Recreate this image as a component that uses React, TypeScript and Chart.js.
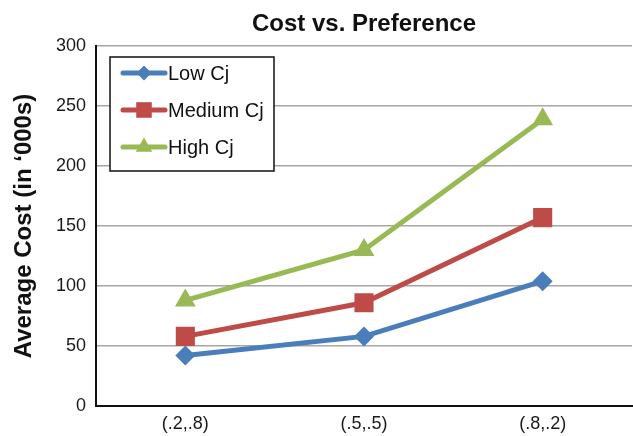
import React, { useEffect, useRef } from "react";
import { Chart, registerables } from "chart.js";
import { drawPoint } from "chart.js/helpers";

Chart.register(...registerables);

// Preference pairs on the x axis
const categories = ["(.2,.8)", "(.5,.5)", "(.8,.2)"];

// Average cost (in thousands) per Cj level
const lowCj = [42, 58, 104];
const mediumCj = [58, 86, 157];
const highCj = [88, 130, 239];

const seriesNames = ["Low Cj", "Medium Cj", "High Cj"];
const seriesColors = ["#4A7EBB", "#BE4B48", "#98B954"];
const seriesMarkers = ["rectRot", "rect", "triangle"];
const markerRadii = [10, 13.5, 12];
const legendRadii = [7.5, 11, 9.5];

const yTicks = [0, 50, 100, 150, 200, 250, 300];

const chartTitle = "Cost vs. Preference";
const yTitle = "Average Cost (in \u2018000s)";

const FONT = "'Liberation Sans', Arial, Helvetica, sans-serif";

const titlePlugin = {
  id: "centeredTitle",
  afterDraw(chart: any) {
    const { ctx, chartArea } = chart;
    ctx.save();
    ctx.font = `bold 24px ${FONT}`;
    ctx.fillStyle = "#111";
    ctx.textAlign = "center";
    ctx.textBaseline = "middle";
    ctx.fillText(chartTitle, (chartArea.left + chartArea.right) / 2, 24);
    ctx.restore();
  },
};

const boxedLegend = {
  id: "boxedLegend",
  afterDraw(chart: any) {
    const { ctx } = chart;
    const x0 = 110;
    const y0 = 57;
    const w = 164;
    const h = 114;
    ctx.save();
    ctx.fillStyle = "#fff";
    ctx.fillRect(x0, y0, w, h);
    ctx.lineWidth = 1.5;
    ctx.strokeStyle = "#111";
    ctx.strokeRect(x0, y0, w, h);
    chart.data.datasets.forEach((ds: any, i: number) => {
      const y = y0 + 16 + i * 37;
      ctx.strokeStyle = ds.borderColor;
      ctx.lineWidth = 5;
      ctx.lineCap = "round";
      ctx.beginPath();
      ctx.moveTo(x0 + 13, y);
      ctx.lineTo(x0 + 55, y);
      ctx.stroke();
      ctx.fillStyle = ds.backgroundColor;
      ctx.strokeStyle = ds.borderColor;
      drawPoint(ctx, { pointStyle: ds.pointStyle, radius: legendRadii[i], rotation: 0, borderWidth: 0 }, x0 + 34, y);
      ctx.fillStyle = "#111";
      ctx.font = `20px ${FONT}`;
      ctx.textAlign = "left";
      ctx.textBaseline = "middle";
      ctx.fillText(ds.label, x0 + 58, y + 1);
    });
    ctx.restore();
  },
};

export default function App() {
  const canvasRef = useRef<HTMLCanvasElement | null>(null);

  useEffect(() => {
    if (!canvasRef.current) return;
    const values = [lowCj, mediumCj, highCj];
    const chart = new Chart(canvasRef.current, {
      type: "line",
      data: {
        labels: categories,
        datasets: values.map((data, i) => ({
          label: seriesNames[i],
          data,
          borderColor: seriesColors[i],
          backgroundColor: seriesColors[i],
          borderWidth: 5,
          pointStyle: seriesMarkers[i] as any,
          pointRadius: markerRadii[i],
          pointBorderWidth: 0,
          pointBackgroundColor: seriesColors[i],
          tension: 0,
        })),
      },
      options: {
        responsive: false,
        animation: false,
        layout: { autoPadding: false, padding: { top: 46, right: 1, bottom: 0, left: 0 } },
        plugins: {
          legend: { display: false },
          title: { display: false },
          tooltip: { enabled: false },
        },
        scales: {
          x: {
            offset: true,
            grid: { display: false, drawTicks: false },
            border: { color: "#111", width: 2 },
            ticks: {
              color: "#1a1a1a",
              font: { family: FONT, size: 18 },
              padding: 7,
            },
            afterFit(scale: any) {
              scale.height = 30;
              scale.paddingLeft = 0;
              scale.paddingRight = 0;
            },
          },
          y: {
            min: 0,
            max: 300,
            afterBuildTicks(scale: any) {
              scale.ticks = yTicks.map((v) => ({ value: v }));
            },
            grid: { color: "#A6A6A6", lineWidth: 1.5, drawTicks: false },
            border: { color: "#111", width: 2 },
            ticks: {
              color: "#1a1a1a",
              font: { family: FONT, size: 18 },
              padding: 10,
            },
            title: {
              display: true,
              text: yTitle,
              color: "#111",
              font: { family: FONT, size: 24, weight: "bold" },
              padding: { top: 10, bottom: 0 },
            },
            afterFit(scale: any) {
              scale.width = 96;
            },
          },
        },
      },
      plugins: [titlePlugin, boxedLegend],
    });
    return () => chart.destroy();
  }, []);

  return (
    <div style={{ position: "absolute", left: 0, top: 0, width: 633, height: 436, background: "#fff" }}>
      <canvas ref={canvasRef} width={633} height={436} style={{ display: "block" }} />
    </div>
  );
}
